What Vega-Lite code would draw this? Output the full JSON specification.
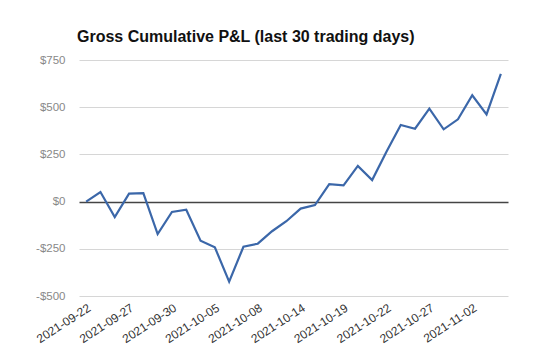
{
  "$schema": "https://vega.github.io/schema/vega-lite/v6.json",
  "width": 429,
  "height": 236,
  "autosize": {"type": "none"},
  "padding": {"left": 79, "top": 60, "right": 32, "bottom": 63},
  "background": "white",
  "title": {
    "text": "Gross Cumulative P&L (last 30 trading days)",
    "anchor": "start",
    "frame": "group",
    "offset": 9,
    "dx": -2,
    "font": "Liberation Sans",
    "fontSize": 16,
    "fontWeight": "bold",
    "color": "#111"
  },
  "config": {"view": {"stroke": null}},
  "data": {
    "values": [
      {"date": "2021-09-22", "pnl": 0},
      {"date": "2021-09-23", "pnl": 51},
      {"date": "2021-09-24", "pnl": -82},
      {"date": "2021-09-27", "pnl": 42},
      {"date": "2021-09-28", "pnl": 45},
      {"date": "2021-09-29", "pnl": -172},
      {"date": "2021-09-30", "pnl": -55},
      {"date": "2021-10-01", "pnl": -43},
      {"date": "2021-10-04", "pnl": -207},
      {"date": "2021-10-05", "pnl": -242},
      {"date": "2021-10-06", "pnl": -424},
      {"date": "2021-10-07", "pnl": -239},
      {"date": "2021-10-08", "pnl": -223},
      {"date": "2021-10-12", "pnl": -157},
      {"date": "2021-10-13", "pnl": -104},
      {"date": "2021-10-14", "pnl": -37},
      {"date": "2021-10-15", "pnl": -18},
      {"date": "2021-10-18", "pnl": 93},
      {"date": "2021-10-19", "pnl": 86},
      {"date": "2021-10-20", "pnl": 189},
      {"date": "2021-10-21", "pnl": 114},
      {"date": "2021-10-22", "pnl": 264},
      {"date": "2021-10-25", "pnl": 406},
      {"date": "2021-10-26", "pnl": 386},
      {"date": "2021-10-27", "pnl": 492},
      {"date": "2021-10-28", "pnl": 383},
      {"date": "2021-11-01", "pnl": 436},
      {"date": "2021-11-02", "pnl": 563},
      {"date": "2021-11-03", "pnl": 462},
      {"date": "2021-11-04", "pnl": 676}
    ]
  },
  "mark": {"type": "line", "color": "#3b67a9", "strokeWidth": 2.2, "strokeJoin": "miter"},
  "encoding": {
    "x": {
      "field": "date",
      "type": "ordinal",
      "sort": null,
      "scale": {"type": "point", "padding": 0.5},
      "axis": {
        "title": null,
        "values": ["2021-09-22", "2021-09-27", "2021-09-30", "2021-10-05", "2021-10-08", "2021-10-14", "2021-10-19", "2021-10-22", "2021-10-27", "2021-11-02"],
        "labelAngle": -33,
        "labelAlign": "right",
        "labelBaseline": "top",
        "labelFont": "Liberation Sans",
        "labelFontSize": 12,
        "labelColor": "#333",
        "labelPadding": 6,
        "ticks": false,
        "domain": false,
        "grid": false
      }
    },
    "y": {
      "field": "pnl",
      "type": "quantitative",
      "scale": {"domain": [-500, 750], "nice": false, "zero": false},
      "axis": {
        "title": null,
        "values": [-500, -250, 0, 250, 500, 750],
        "labelExpr": "(datum.value < 0 ? '-' : '') + '$' + abs(datum.value)",
        "labelFont": "Liberation Sans",
        "labelFontSize": 11.5,
        "labelColor": "#888",
        "labelPadding": 14,
        "ticks": false,
        "domain": false,
        "grid": true,
        "gridColor": {"condition": {"test": "datum.value === 0", "value": "#444"}, "value": "#d6d6d6"},
        "gridWidth": {"condition": {"test": "datum.value === 0", "value": 1.3}, "value": 1}
      }
    }
  }
}
